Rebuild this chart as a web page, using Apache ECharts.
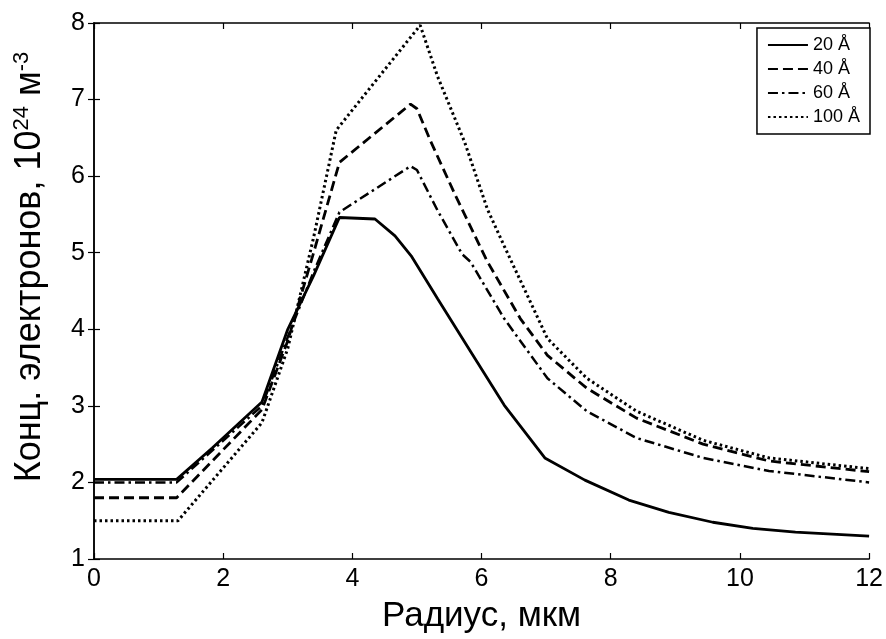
<!DOCTYPE html>
<html>
<head>
<meta charset="utf-8">
<script src="https://cdn.jsdelivr.net/npm/echarts@6/dist/echarts.min.js"></script>
<style>
  html, body { margin: 0; padding: 0; background: #fff; }
  #chart { width: 886px; height: 639px; }
</style>
</head>
<body>
<div id="chart"></div>
<script>
// radius, um
var r20  = [0, 1.28, 1.83, 2.6, 3.0, 3.4, 3.8, 4.35, 4.66, 4.91, 5.32, 5.83, 6.35, 6.98, 7.6, 8.28, 8.9, 9.58, 10.2, 10.86, 12];
var n20  = [2.04, 2.04, 2.45, 3.05, 4.0, 4.7, 5.46, 5.44, 5.22, 4.96, 4.40, 3.71, 3.01, 2.32, 2.03, 1.77, 1.61, 1.48, 1.40, 1.35, 1.30];

var r40  = [0, 1.28, 2.6, 3.0, 3.4, 3.8, 4.9, 5.0, 5.22, 5.6, 6.08, 6.6, 7.02, 7.63, 8.4, 9.43, 10.45, 12];
var n40  = [1.80, 1.80, 2.95, 3.85, 5.0, 6.18, 6.94, 6.88, 6.44, 5.74, 4.90, 4.14, 3.66, 3.23, 2.84, 2.50, 2.28, 2.14];

var r60  = [0, 1.28, 2.6, 3.0, 3.4, 3.8, 4.9, 5.0, 5.32, 5.7, 5.83, 6.35, 7.02, 7.63, 8.4, 9.43, 10.45, 12];
var n60  = [2.00, 2.00, 3.0, 3.9, 4.75, 5.53, 6.13, 6.08, 5.55, 4.98, 4.88, 4.14, 3.36, 2.93, 2.58, 2.32, 2.15, 2.00];

var r100 = [0, 1.3, 2.6, 3.0, 3.4, 3.75, 5.05, 5.32, 5.74, 6.09, 6.35, 7.02, 7.63, 8.4, 9.43, 10.45, 12];
var n100 = [1.50, 1.50, 2.78, 3.75, 5.2, 6.6, 7.97, 7.30, 6.44, 5.57, 5.09, 3.88, 3.36, 2.93, 2.55, 2.32, 2.18];

var seriesNames = ['20 Å', '40 Å', '60 Å', '100 Å'];

function pairs(xs, ys) {
  return xs.map(function (x, i) { return [x, ys[i]]; });
}

var FONT = 'Liberation Sans';

function lineSeries(name, xs, ys, type, width) {
  return {
    name: name,
    type: 'line',
    data: pairs(xs, ys),
    symbol: 'none',
    color: '#000',
    animation: false,
    lineStyle: { color: '#000', width: width, type: type }
  };
}

var boxAxis = {
  axisLine: { show: true, lineStyle: { color: '#000', width: 1.5 } },
  axisTick: { show: true, inside: true, length: 6, lineStyle: { color: '#000', width: 1.2 } },
  splitLine: { show: false }
};

var chart = echarts.init(document.getElementById('chart'));
chart.setOption({
  backgroundColor: '#fff',
  animation: false,
  grid: { left: 94, right: 11, top: 23, bottom: 77, containLabel: false },
  legend: {
    data: seriesNames,
    orient: 'vertical',
    right: 16,
    top: 28,
    padding: [8, 10, 8, 10],
    itemGap: 6,
    itemWidth: 40,
    itemHeight: 14,
    borderColor: '#000',
    borderWidth: 1.5,
    borderRadius: 0,
    backgroundColor: '#fff',
    itemStyle: { opacity: 0 },
    textStyle: { fontFamily: FONT, fontSize: 18, lineHeight: 18, color: '#000' }
  },
  xAxis: [
    Object.assign({
      type: 'value', min: 0, max: 12, interval: 2,
      name: 'Радиус, мкм',
      nameLocation: 'middle',
      nameGap: 40,
      nameTextStyle: { fontFamily: FONT, fontSize: 35, color: '#000' },
      axisLabel: { fontFamily: FONT, fontSize: 25, color: '#000', margin: 8 }
    }, boxAxis),
    Object.assign({
      type: 'value', min: 0, max: 12, interval: 2, position: 'top',
      axisLabel: { show: false }
    }, boxAxis)
  ],
  yAxis: [
    Object.assign({
      type: 'value', min: 1, max: 8, interval: 1,
      name: 'Конц. электронов, 10{sup|24} м{sup|-3}',
      nameLocation: 'middle',
      nameGap: 45,
      nameRotate: 90,
      nameTextStyle: {
        fontFamily: FONT, fontSize: 36, color: '#000', padding: [0, 0, 0, 48],
        rich: { sup: { fontFamily: FONT, fontSize: 22, color: '#000', verticalAlign: 'top', padding: [0, 0, 16, 0] } }
      },
      axisLabel: { fontFamily: FONT, fontSize: 25, color: '#000', margin: 9 }
    }, boxAxis),
    Object.assign({
      type: 'value', min: 1, max: 8, interval: 1, position: 'right',
      axisLabel: { show: false }
    }, boxAxis)
  ],
  series: [
    lineSeries(seriesNames[0], r20, n20, 'solid', 2.8),
    lineSeries(seriesNames[1], r40, n40, [10, 5], 2.8),
    lineSeries(seriesNames[2], r60, n60, [10, 4, 2.5, 4], 2.5),
    lineSeries(seriesNames[3], r100, n100, [2.5, 3], 3)
  ]
});
</script>
</body>
</html>
